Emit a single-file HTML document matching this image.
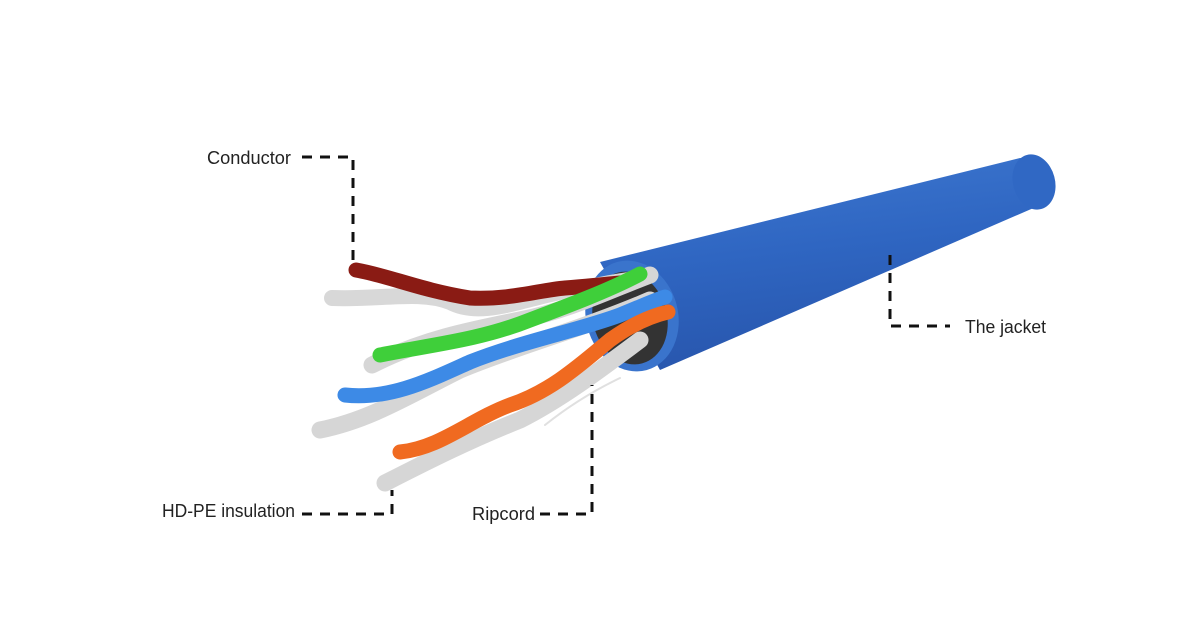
<!DOCTYPE html>
<html><head><meta charset="utf-8"><style>
html,body{margin:0;padding:0;background:#fff;}
svg{display:block}
text{font-family:"Liberation Sans",sans-serif;font-size:18px;fill:#222;}
</style></head><body>
<svg width="1200" height="630" viewBox="0 0 1200 630" xmlns="http://www.w3.org/2000/svg">
<defs>
<linearGradient id="jk" x1="0" y1="0" x2="0.25" y2="1">
<stop offset="0" stop-color="#3e78d0"/><stop offset="0.5" stop-color="#2f66c2"/><stop offset="1" stop-color="#2856ad"/>
</linearGradient>
</defs>
<path d="M600 262 L1020 158 Q1058 160 1052 200 L660 370 Z" fill="url(#jk)"/>
<ellipse cx="1034" cy="182" rx="21" ry="28" transform="rotate(-15 1034 182)" fill="#3068c4"/>
<ellipse cx="632" cy="316" rx="46" ry="56" transform="rotate(-15 632 316)" fill="#3a74cc"/>
<ellipse cx="630" cy="318" rx="37" ry="47" transform="rotate(-15 630 318)" fill="#333"/>
<g fill="none" stroke-linecap="round">
<path d="M332 298 C380 300 420 290 450 302 C480 318 520 300 560 292 C590 288 610 282 630 280" stroke="#d8d8d8" stroke-width="16"/>
<path d="M356 270 C390 276 420 290 470 298 C510 300 540 290 565 288 C590 286 610 284 630 282" stroke="#8a1b14" stroke-width="15"/>
<path d="M372 365 C420 340 470 330 520 320 C570 310 610 290 650 275" stroke="#d6d6d6" stroke-width="17"/>
<path d="M380 355 C430 345 480 340 530 320 C570 305 610 290 640 274" stroke="#3fcf3a" stroke-width="15"/>
<path d="M320 430 C370 420 410 395 460 370 C520 345 580 330 650 300" stroke="#d6d6d6" stroke-width="17"/>
<path d="M345 395 C390 400 430 380 470 362 C520 342 580 330 620 315 C640 307 655 300 665 297" stroke="#3d8ae6" stroke-width="15"/>
<path d="M385 483 C430 460 470 440 520 420 C560 400 600 370 640 340" stroke="#d6d6d6" stroke-width="17"/>
<path d="M400 452 C440 448 470 420 510 405 C550 392 580 365 610 340 C635 322 655 315 668 312" stroke="#f06a20" stroke-width="15"/>
<path d="M545 425 C570 405 595 390 620 378" stroke="#e0e0e0" stroke-width="2"/>
</g>
<g fill="none" stroke="#111" stroke-width="3" stroke-dasharray="10,8">
<path d="M302 157 H353 V268"/>
<path d="M890 255 V326 H950"/>
<path d="M302 514 H392 V490"/>
<path d="M540 514 H592 V385"/>
</g>
<text x="207" y="164" textLength="84" lengthAdjust="spacingAndGlyphs">Conductor</text>
<text x="965" y="333" textLength="81" lengthAdjust="spacingAndGlyphs">The jacket</text>
<text x="162" y="517" textLength="133" lengthAdjust="spacingAndGlyphs">HD-PE insulation</text>
<text x="472" y="520" textLength="63" lengthAdjust="spacingAndGlyphs">Ripcord</text>
</svg>
</body></html>
